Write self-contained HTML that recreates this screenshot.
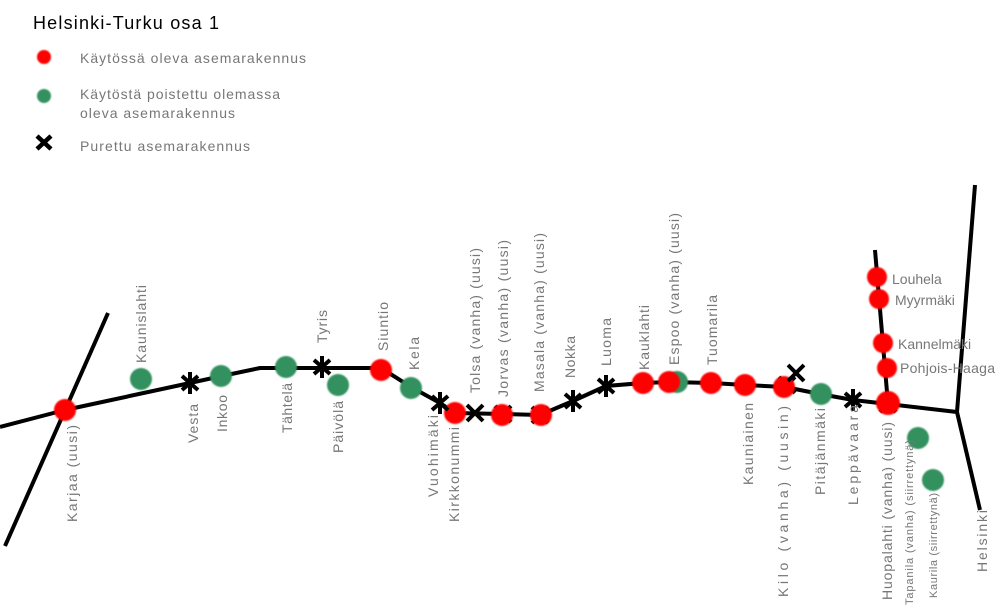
<!DOCTYPE html>
<html><head><meta charset="utf-8"><style>
html,body{margin:0;padding:0;background:#fff;}
svg{display:block;}
text{font-family:"Liberation Sans",sans-serif;}
.l{fill:#777;font-size:14px;}
.s{fill:#777;font-size:11px;}
.lg{letter-spacing:1px;}
</style></head><body>
<svg width="1000" height="607" viewBox="0 0 1000 607" xmlns="http://www.w3.org/2000/svg">
<defs>
<filter id="b" x="-50%" y="-50%" width="200%" height="200%"><feGaussianBlur stdDeviation="0.8"/></filter>
<g id="x"><path d="M-8,-8 L8,8 M8,-8 L-8,8" stroke="#000" stroke-width="4"/></g>
<g id="a"><path d="M-8,-7 L8,7 M8,-7 L-8,7 M0,-11 L0,11" stroke="#000" stroke-width="4"/></g>
</defs>
<!-- legend -->
<text x="33" y="29" font-size="18" fill="#000" textLength="186" lengthAdjust="spacing">Helsinki-Turku osa 1</text>
<circle cx="44" cy="57" r="7" fill="#f00" filter="url(#b)"/>
<text x="80" y="63" class="l" font-size="15" textLength="226" lengthAdjust="spacing">Käytössä oleva asemarakennus</text>
<circle cx="44" cy="96" r="7" fill="#33915f" filter="url(#b)"/>
<text x="80" y="99" class="l" textLength="200" lengthAdjust="spacing">Käytöstä poistettu olemassa</text>
<text x="80" y="118" class="l" textLength="155" lengthAdjust="spacing">oleva asemarakennus</text>
<path d="M37,136 L51,149 M51,136 L37,149" stroke="#000" stroke-width="4.5"/>
<text x="80" y="151" class="l" textLength="170" lengthAdjust="spacing">Purettu asemarakennus</text>

<!-- lines -->
<g fill="none" stroke="#000" stroke-width="4" stroke-linejoin="round">
<path d="M0,427 L65,410 L190,383 L222,376 L260,368 L381,368 L411,387 L440,403 L455,413 L503,414 L540,415 L573,401 L606,386 L643,383 L670,382 L712,383 L745,385 L785,387 L820,394 L853,400 L888,404 L957,412"/>
<path d="M108,313 L5,546"/>
<path d="M975,185 L957,412 L980,510"/>
<path d="M875,250 L888,404"/>
</g>

<use href="#x" x="503" y="414"/>
<use href="#x" x="540" y="415"/>
<use href="#x" x="888" y="404"/>
<use href="#x" x="787" y="385"/>

<g fill="#33915f" filter="url(#b)">
<circle cx="141" cy="379" r="11"/>
<circle cx="221" cy="376" r="11"/>
<circle cx="286" cy="367" r="11"/>
<circle cx="338" cy="385" r="11"/>
<circle cx="411" cy="388" r="11"/>
<circle cx="677" cy="382" r="11"/>
<circle cx="821" cy="394" r="11"/>
<circle cx="918" cy="438" r="11"/>
<circle cx="933" cy="480" r="11"/>
</g>
<g fill="#f00" filter="url(#b)">
<circle cx="65" cy="410" r="11"/>
<circle cx="381" cy="370" r="11"/>
<circle cx="455" cy="413" r="11"/>
<circle cx="502" cy="415" r="11"/>
<circle cx="541" cy="415" r="11"/>
<circle cx="643" cy="383" r="11"/>
<circle cx="669" cy="382" r="11"/>
<circle cx="711" cy="383" r="11"/>
<circle cx="745" cy="385" r="11"/>
<circle cx="784" cy="387" r="11"/>
<circle cx="888" cy="403" r="12"/>
<circle cx="877" cy="277" r="10"/>
<circle cx="879" cy="299" r="10"/>
<circle cx="883" cy="343" r="10"/>
<circle cx="887" cy="368" r="10"/>
</g>
<use href="#a" x="190" y="383"/>
<use href="#a" x="322" y="367"/>
<use href="#a" x="440" y="403"/>
<use href="#x" x="475" y="413"/>
<use href="#a" x="573" y="401"/>
<use href="#a" x="606" y="386"/>
<use href="#x" x="796" y="373"/>
<use href="#a" x="853" y="400"/>

<g class="l" text-anchor="end" lengthAdjust="spacing">
<text transform="translate(77,425) rotate(-90)" textLength="97" lengthAdjust="spacing">Karjaa (uusi)</text>
<text transform="translate(198,404) rotate(-90)" textLength="39" lengthAdjust="spacing">Vesta</text>
<text transform="translate(227,395) rotate(-90)" textLength="37" lengthAdjust="spacing">Inkoo</text>
<text transform="translate(292,383) rotate(-90)" textLength="50" lengthAdjust="spacing">Tähtelä</text>
<text transform="translate(343,401) rotate(-90)" textLength="52" lengthAdjust="spacing">Päivölä</text>
<text transform="translate(438,415) rotate(-90)" textLength="82" lengthAdjust="spacing">Vuohimäki</text>
<text transform="translate(459,427) rotate(-90)" textLength="95" lengthAdjust="spacing">Kirkkonummi</text>
<text transform="translate(753,403) rotate(-90)" textLength="82" lengthAdjust="spacing">Kauniainen</text>
<text transform="translate(788,406) rotate(-90)" textLength="191" lengthAdjust="spacing">Kilo (vanha) (uusin)</text>
<text transform="translate(825,408) rotate(-90)" textLength="87" lengthAdjust="spacing">Pitäjänmäki</text>
<text transform="translate(858,405) rotate(-90)" textLength="100" lengthAdjust="spacing">Leppävaara</text>
<text transform="translate(892,422) rotate(-90)" textLength="178" lengthAdjust="spacing">Huopalahti (vanha) (uusi)</text>
<text transform="translate(987,510) rotate(-90)" textLength="62" lengthAdjust="spacing">Helsinki</text>
</g>
<g class="s" text-anchor="end">
<text transform="translate(913,440) rotate(-90)" textLength="165" lengthAdjust="spacing">Tapanila (vanha) (siirrettynä)</text>
<text transform="translate(937,493) rotate(-90)" textLength="105" lengthAdjust="spacing">Kaurila (siirrettynä)</text>
</g>
<g class="l">
<text transform="translate(146,363) rotate(-90)" textLength="78" lengthAdjust="spacing">Kaunislahti</text>
<text transform="translate(327,343) rotate(-90)" textLength="33" lengthAdjust="spacing">Tyris</text>
<text transform="translate(388,351) rotate(-90)" textLength="49" lengthAdjust="spacing">Siuntio</text>
<text transform="translate(419,370) rotate(-90)" textLength="33" lengthAdjust="spacing">Kela</text>
<text transform="translate(480,393) rotate(-90)" textLength="145" lengthAdjust="spacing">Tolsa (vanha) (uusi)</text>
<text transform="translate(508,397) rotate(-90)" textLength="157" lengthAdjust="spacing">Jorvas (vanha) (uusi)</text>
<text transform="translate(544,392) rotate(-90)" textLength="159" lengthAdjust="spacing">Masala (vanha) (uusi)</text>
<text transform="translate(575,378) rotate(-90)" textLength="42" lengthAdjust="spacing">Nokka</text>
<text transform="translate(611,366) rotate(-90)" textLength="48" lengthAdjust="spacing">Luoma</text>
<text transform="translate(649,370) rotate(-90)" textLength="65" lengthAdjust="spacing">Kauklahti</text>
<text transform="translate(679,365) rotate(-90)" textLength="152" lengthAdjust="spacing">Espoo (vanha) (uusi)</text>
<text transform="translate(717,365) rotate(-90)" textLength="70" lengthAdjust="spacing">Tuomarila</text>
</g>
<g class="l">
<text x="892" y="284">Louhela</text>
<text x="895" y="305">Myyrmäki</text>
<text x="898" y="349">Kannelmäki</text>
<text x="900" y="373" textLength="95" lengthAdjust="spacing">Pohjois-Haaga</text>
</g>
</svg>
</body></html>
